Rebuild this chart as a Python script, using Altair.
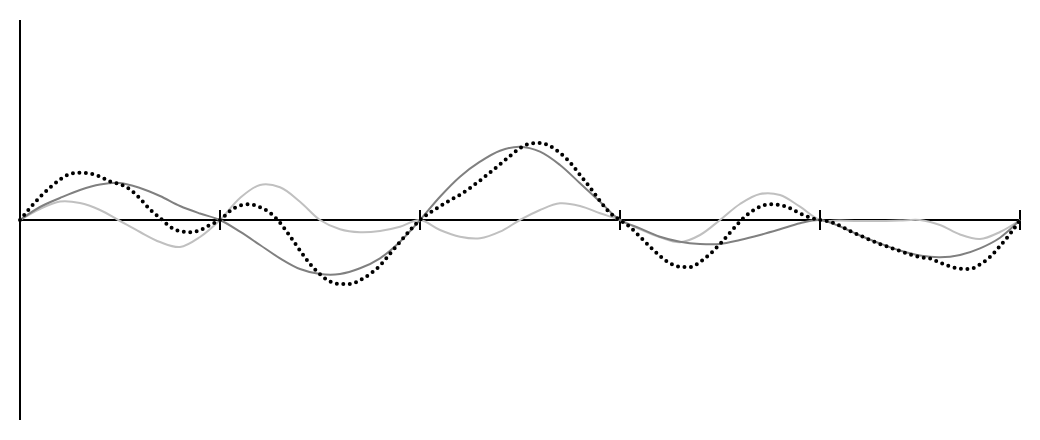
import altair as alt
import pandas as pd

# x positions (0..1000 across five equal segments), y offsets
X_SOLID = list(range(0, 1001, 20))
X_DOTTED = list(range(0, 1001, 10))

DARK = [
    0, 13, 22, 30, 35.5, 37, 32, 24, 14, 6.5,
    0, -11.7, -25, -38.3, -49, -54, -54, -48.3, -38.3, -21.7,
    0, 23.3, 43.3, 58.3, 69.3, 73.3, 68.3, 55, 36.7, 18.3,
    0, -8.3, -16.7, -21.7, -24, -24, -20, -15, -9.3, -3.3,
    0, -6.5, -15.5, -23.5, -30.5, -35.5, -37.3, -35, -28.3, -17.7,
    0,
]

LIGHT = [
    0, 11, 18.5, 17, 10, -1, -12, -22, -27, -17,
    0, 22, 35, 32.7, 18.3, 0, -9.3, -12.3, -11, -6.7,
    0, -10, -16.7, -18.3, -11.7, 0, 10, 16.7, 14, 6.7,
    0, -9.3, -17.3, -22.3, -15, 0, 16, 26, 25, 13.3,
    0, -0.5, -1, -1, -0.5, 0, -5, -14.5, -19, -12,
    0,
]

DOTTED = [
    0, 12, 23, 32.5, 40.5, 46, 47.3, 46.5, 43.5, 38.5,
    35.8, 30.5, 21.5, 10.5, 2, -6.7, -11.2, -12.3, -10.3, -5,
    0, 9, 14.5, 15.7, 12.8, 7.3, -2.7, -16.2, -30.5, -44,
    -54.3, -61.5, -64, -64, -60.2, -54, -45.5, -33.7, -22, -10.3,
    0, 7.3, 13.7, 19.8, 25.3, 32, 39.5, 47.5, 55.7, 64,
    71.8, 76.3, 77, 74, 67, 57.7, 45, 32.5, 19, 7,
    0, -7, -16.7, -26.7, -36, -43.3, -46.7, -47, -42, -34,
    -24, -12.7, -1.5, 7.5, 13.2, 15.7, 15, 11.7, 6.5, 2.5,
    0, -1.7, -5.8, -11, -15.5, -20, -24, -27.5, -31, -34.5,
    -37.2, -38.5, -42.7, -46.4, -48.6, -49, -44.5, -37, -26, -14,
    0,
]

TICKS = [200, 400, 600, 800, 1000]
X_RANGE = [0, 1000]
Y_RANGE = [-200, 200]
TICK_HALF = 10

xs = alt.Scale(domain=X_RANGE, nice=False, zero=False)
ys = alt.Scale(domain=Y_RANGE, nice=False, zero=False)

yaxis_df = pd.DataFrame({"x": [X_RANGE[0]], "y": [Y_RANGE[0]], "y2": [Y_RANGE[1]]})
xaxis_df = pd.DataFrame({"x": [X_RANGE[0]], "x2": [X_RANGE[1]], "y": [0]})
ticks_df = pd.DataFrame({"x": TICKS, "y": [-TICK_HALF] * len(TICKS), "y2": [TICK_HALF] * len(TICKS)})

yaxis = alt.Chart(yaxis_df).mark_rule(color="black", strokeWidth=2).encode(
    x=alt.X("x:Q", scale=xs, axis=None),
    y=alt.Y("y:Q", scale=ys, axis=None),
    y2="y2:Q",
)
xaxis = alt.Chart(xaxis_df).mark_rule(color="black", strokeWidth=2).encode(
    x=alt.X("x:Q", scale=xs, axis=None),
    x2="x2:Q",
    y=alt.Y("y:Q", scale=ys, axis=None),
)
ticks = alt.Chart(ticks_df).mark_rule(color="black", strokeWidth=2).encode(
    x=alt.X("x:Q", scale=xs, axis=None),
    y=alt.Y("y:Q", scale=ys, axis=None),
    y2="y2:Q",
)

light_df = pd.DataFrame({"x": X_SOLID, "y": LIGHT})
dark_df = pd.DataFrame({"x": X_SOLID, "y": DARK})
dot_df = pd.DataFrame({"x": X_DOTTED, "y": DOTTED})

light = alt.Chart(light_df).mark_line(
    color="#c0c0c0", strokeWidth=2, interpolate="catmull-rom"
).encode(
    x=alt.X("x:Q", scale=xs, axis=None),
    y=alt.Y("y:Q", scale=ys, axis=None),
)
dark = alt.Chart(dark_df).mark_line(
    color="#808080", strokeWidth=2, interpolate="catmull-rom"
).encode(
    x=alt.X("x:Q", scale=xs, axis=None),
    y=alt.Y("y:Q", scale=ys, axis=None),
)
dotted = alt.Chart(dot_df).mark_line(
    color="black", strokeWidth=4, interpolate="monotone",
    strokeDash=[0, 6.5], strokeCap="round",
).encode(
    x=alt.X("x:Q", scale=xs, axis=None),
    y=alt.Y("y:Q", scale=ys, axis=None),
)

chart = alt.layer(yaxis, xaxis, ticks, light, dark, dotted).properties(
    width=1000,
    height=400,
    padding={"left": 12, "top": 12, "right": 12, "bottom": 12},
    autosize=alt.AutoSizeParams(type="none"),
).configure_view(strokeWidth=0)

chart.save("out.html", embed_options={"renderer": "svg", "actions": False})
